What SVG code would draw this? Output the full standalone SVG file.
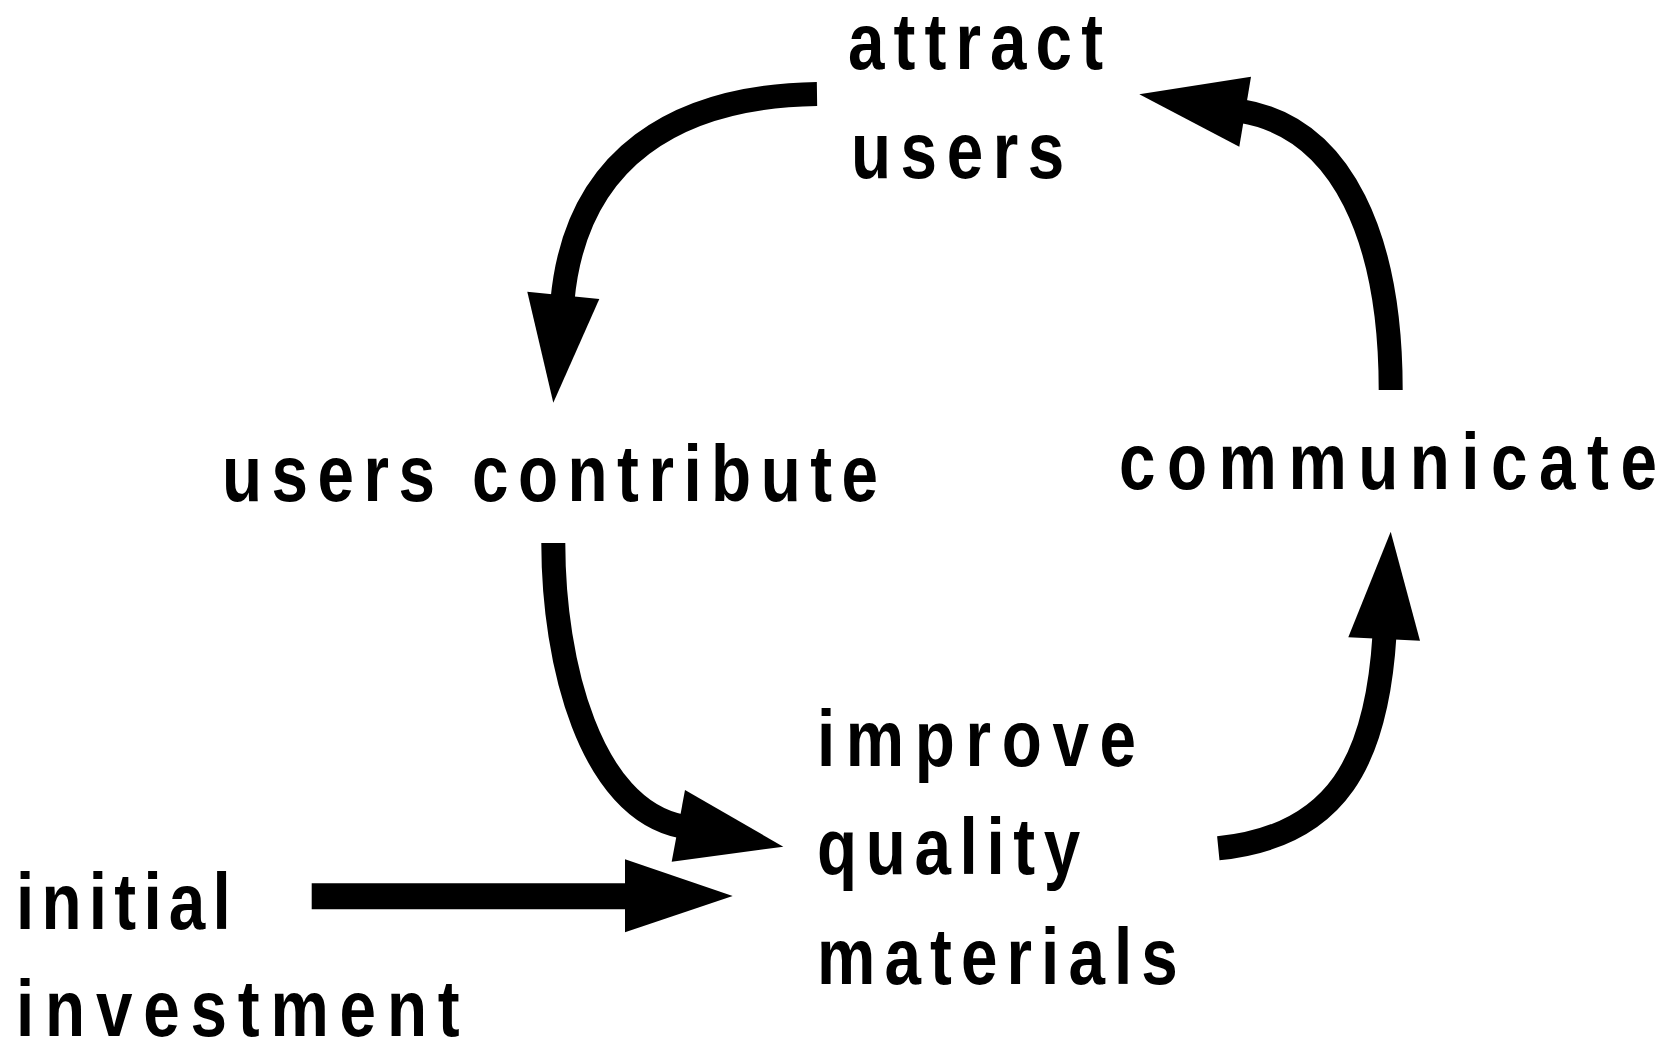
<svg xmlns="http://www.w3.org/2000/svg" width="1668" height="1044" viewBox="0 0 1668 1044">
<style>
.lbl{font-family:"Liberation Sans",Arial,sans-serif;font-weight:bold;font-size:80px;fill:#000}
.shaft{fill:none;stroke:#000;stroke-width:24;stroke-linecap:butt}
.head{fill:#000;stroke:none}
</style>
<rect width="1668" height="1044" fill="#fff"/>
<g id="attract-users">
<text class="lbl" transform="translate(848,69) scale(0.82,1)" textLength="311" lengthAdjust="spacing">attract</text>
<text class="lbl" transform="translate(851,178) scale(0.82,1)" textLength="260" lengthAdjust="spacing">users</text>
</g>
<g id="users-contribute">
<text class="lbl" transform="translate(222,501) scale(0.82,1)" textLength="800" lengthAdjust="spacing">users contribute</text>
</g>
<g id="communicate">
<text class="lbl" transform="translate(1119,489) scale(0.82,1)" textLength="656" lengthAdjust="spacing">communicate</text>
</g>
<g id="improve-quality-materials">
<text class="lbl" transform="translate(817,766) scale(0.82,1)" textLength="389" lengthAdjust="spacing">improve</text>
<text class="lbl" transform="translate(817,874) scale(0.82,1)" textLength="321" lengthAdjust="spacing">quality</text>
<text class="lbl" transform="translate(817,984) scale(0.82,1)" textLength="440" lengthAdjust="spacing">materials</text>
</g>
<g id="initial-investment">
<text class="lbl" transform="translate(16,929) scale(0.82,1)" textLength="262" lengthAdjust="spacing">initial</text>
<text class="lbl" transform="translate(16,1036) scale(0.82,1)" textLength="541" lengthAdjust="spacing">investment</text>
</g>
<g id="connectors">
<path class="shaft" d="M817,94 C677,96 576,157 562.5,300"/>
<polygon class="head" points="527.3,291.7 599.3,299 553.3,402.7"/>
<path class="shaft" d="M1390.7,390 C1390.7,240 1343.7,127.9 1241,111"/>
<polygon class="head" points="1139.3,94.3 1251,76.7 1239.3,146.7"/>
<path class="shaft" d="M553.3,543 C553.3,663 590,808.3 682,826.5"/>
<polygon class="head" points="685,790 671.7,861.7 783.3,846.7"/>
<path class="shaft" d="M1218.3,848.3 C1338.3,836.3 1376.9,758.8 1384.5,635"/>
<polygon class="head" points="1348.3,637.3 1420,640.7 1390.7,531.7"/>
<path class="shaft" style="stroke-width:26" d="M311.7,896.3 H628"/>
<polygon class="head" points="625,859.3 625,932.3 732.7,896"/>
</g>
</svg>
